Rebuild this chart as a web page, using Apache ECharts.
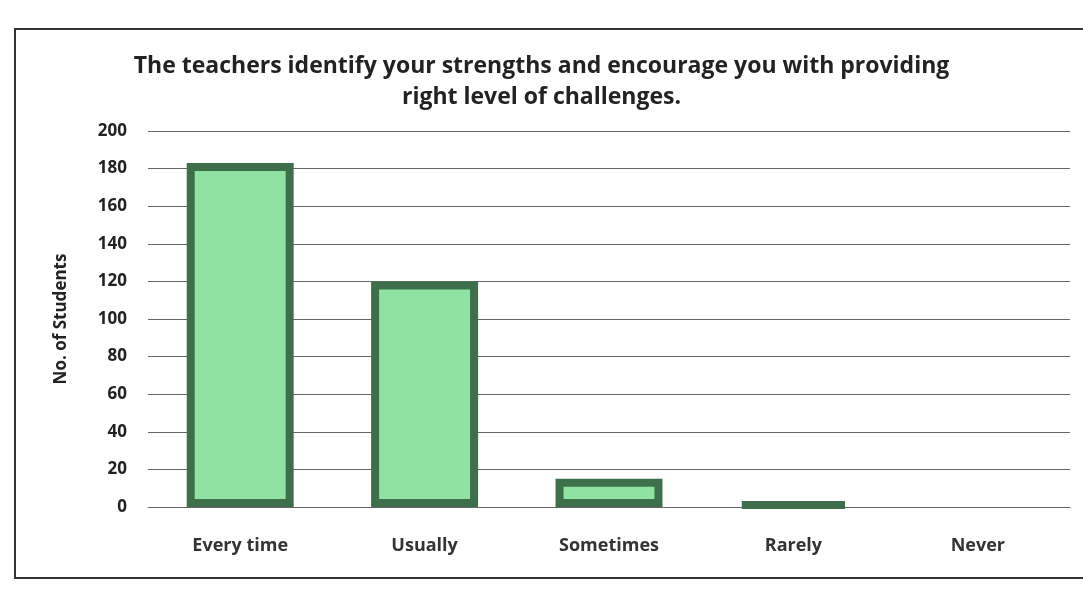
<!DOCTYPE html>
<html>
<head>
<meta charset="utf-8">
<script src="https://cdn.jsdelivr.net/npm/echarts@6/dist/echarts.min.js"></script>
<style>
  html, body { margin: 0; padding: 0; background: #fff; }
  #chart { width: 1083px; height: 595px; }
</style>
</head>
<body>
<div id="chart"></div>
<script>
  // data
  var categories = ['Every time', 'Usually', 'Sometimes', 'Rarely', 'Never'];
  var students = [183, 120, 15, 2, 0];
  var yTicks = [0, 20, 40, 60, 80, 100, 120, 140, 160, 180, 200];

  var myChart = echarts.init(document.getElementById('chart'));
  myChart.setOption({
    backgroundColor: '#fff',
    textStyle: { fontFamily: 'Open Sans' },
    title: {
      text: 'The teachers identify your strengths and encourage you with providing\nright level of challenges.',
      left: 'center',
      top: 46,
      textStyle: {
        fontSize: 23,
        fontWeight: 'bold',
        color: '#222',
        lineHeight: 31,
        fontFamily: 'Open Sans'
      }
    },
    graphic: [{
      type: 'rect',
      shape: { x: 15, y: 29, width: 1080, height: 549 },
      style: { fill: 'none', stroke: '#333', lineWidth: 2 },
      silent: true
    }],
    grid: { left: 148, right: 13, top: 131, bottom: 88 },
    xAxis: {
      type: 'category',
      data: categories,
      axisLine: { show: true, lineStyle: { color: '#666', width: 1 } },
      axisTick: { show: false },
      axisLabel: {
        margin: 30,
        fontSize: 18,
        fontWeight: 'bold',
        color: '#333'
      }
    },
    yAxis: {
      type: 'value',
      min: yTicks[0],
      max: yTicks[yTicks.length - 1],
      interval: 20,
      name: 'No. of Students',
      nameLocation: 'middle',
      nameGap: 78,
      nameTextStyle: { fontSize: 17, fontWeight: 'bold', color: '#222' },
      axisLine: { show: false },
      axisTick: { show: false },
      axisLabel: { fontSize: 17, fontWeight: 'bold', color: '#222', margin: 21 },
      splitLine: { lineStyle: { color: '#666', width: 1 } }
    },
    series: [{
      name: 'No. of Students',
      type: 'bar',
      // a zero bar draws nothing, so drop its border too
      data: students.map(function (v) {
        return v === 0 ? { value: v, itemStyle: { borderWidth: 0 } } : v;
      }),
      barWidth: '58%',
      itemStyle: {
        color: '#8fe2a2',
        borderColor: '#3e6f4b',
        borderWidth: 8
      }
    }]
  });
</script>
</body>
</html>
